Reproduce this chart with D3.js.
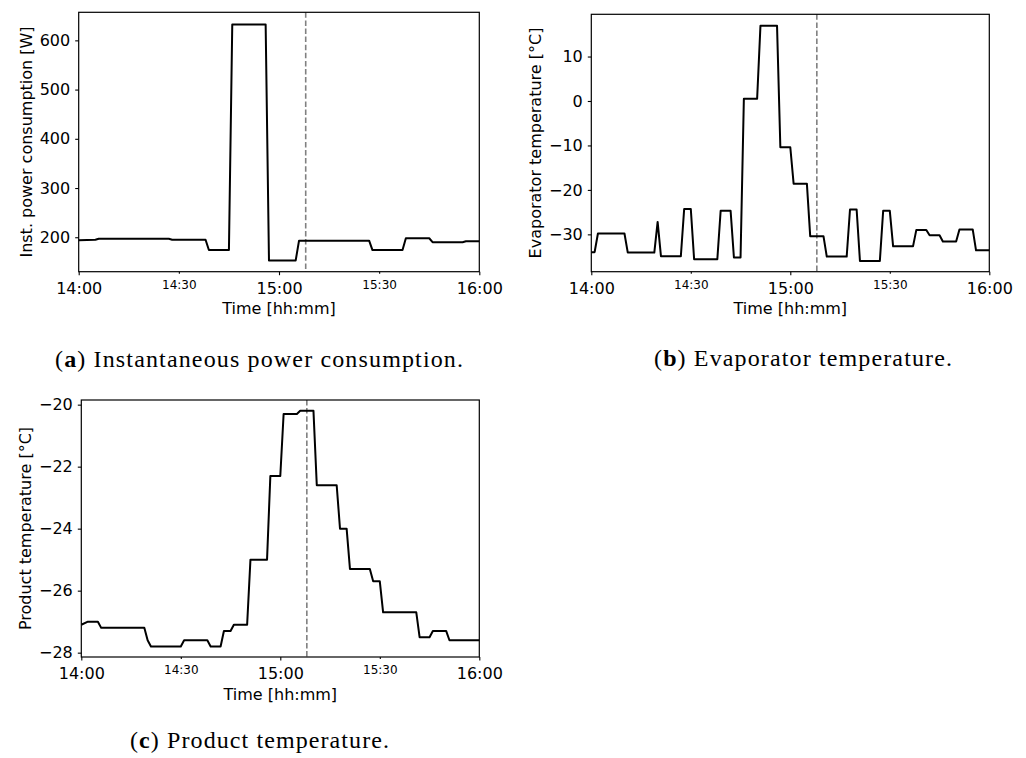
<!DOCTYPE html>
<html>
<head>
<meta charset="utf-8">
<script src="https://cdn.jsdelivr.net/npm/d3@7"></script>
<style>
body { margin: 0; background: #fff; }
svg { display: block; }
</style>
</head>
<body>
<div id="d3"></div>
<script>
// time axis labels
var majorTickLabels = ["14:00", "15:00", "16:00"];
var minorTickLabels = ["14:30", "15:30"];
var startTime = "14:00", endTime = "16:00";
var eventTime = "15:08";

// (a) instantaneous power consumption [W]
var powerTimes = ["14:00", "14:05", "14:06", "14:27", "14:28", "14:38", "14:39", "14:45", "14:46", "14:56",
    "14:57", "15:05", "15:06", "15:27", "15:28", "15:37", "15:38", "15:45", "15:46", "15:55", "15:56", "16:00"];
var powerValues = [194, 195, 197, 197, 195, 195, 174, 174, 632, 632,
    153, 153, 193, 193, 174, 174, 198, 198, 190, 190, 192, 192];
var powerTicks = [200, 300, 400, 500, 600];

// (b) evaporator temperature [°C]
var evapTimes = ["14:00", "14:01", "14:02", "14:10", "14:11", "14:19", "14:20", "14:21", "14:27", "14:28",
    "14:30", "14:31", "14:38", "14:39", "14:42", "14:43", "14:45", "14:46", "14:50", "14:51",
    "14:56", "14:57", "15:00", "15:01", "15:05", "15:06", "15:10", "15:11", "15:17", "15:18",
    "15:20", "15:21", "15:27", "15:28", "15:30", "15:31", "15:37", "15:38", "15:41", "15:42",
    "15:45", "15:46", "15:50", "15:51", "15:55", "15:56", "16:00"];
var evapValues = [-34, -34, -29.8, -29.8, -34.1, -34.1, -27.2, -34.9, -34.9, -24.3,
    -24.3, -35.6, -35.6, -24.7, -24.7, -35.2, -35.2, 0.5, 0.5, 16.9,
    16.9, -10.4, -10.4, -18.6, -18.6, -30.4, -30.4, -35.0, -35.0, -24.4,
    -24.4, -36.0, -36.0, -24.7, -24.7, -32.7, -32.7, -29.0, -29.0, -30.2,
    -30.2, -31.6, -31.6, -28.9, -28.9, -33.6, -33.6];
var evapTicks = [-30, -20, -10, 0, 10];

// (c) product temperature [°C]
var productTimes = ["14:00", "14:02", "14:05", "14:06", "14:19", "14:20", "14:21", "14:30", "14:31", "14:38",
    "14:39", "14:42", "14:43", "14:45", "14:46", "14:50", "14:51", "14:56", "14:57", "15:00",
    "15:01", "15:05", "15:06", "15:10", "15:11", "15:17", "15:18", "15:20", "15:21", "15:27",
    "15:28", "15:30", "15:31", "15:41", "15:42", "15:45", "15:46", "15:50", "15:51", "16:00"];
var productValues = [-27.1, -27.0, -27.0, -27.2, -27.2, -27.6, -27.8, -27.8, -27.6, -27.6,
    -27.8, -27.8, -27.3, -27.3, -27.1, -27.1, -25.0, -25.0, -22.3, -22.3,
    -20.3, -20.3, -20.2, -20.2, -22.6, -22.6, -24.0, -24.0, -25.3, -25.3,
    -25.7, -25.7, -26.7, -26.7, -27.5, -27.5, -27.3, -27.3, -27.6, -27.6];
var productTicks = [-28, -26, -24, -22, -20];

var parseTime = d3.timeParse("%H:%M");
var tickFont = "DejaVu Sans, sans-serif";
var capFont = "Liberation Serif, serif";

var svg = d3.select("#d3").append("svg").attr("width", 1026).attr("height", 758);
svg.append("rect").attr("width", 1026).attr("height", 758).attr("fill", "#fff");

function drawPanel(p) {
    var x = d3.scaleTime().domain([parseTime(startTime), parseTime(endTime)]).range([p.left, p.right]);
    var y = d3.scaleLinear().domain(p.yDomain).range([p.bottom, p.top]);
    var g = svg.append("g");

    var data = p.times.map(function(t, i) {
        return { t: parseTime(t), v: p.values[i] };
    });

    var line = d3.line()
        .x(function(d) { return x(d.t); })
        .y(function(d) { return y(d.v); });

    // dashed event marker
    g.append("line")
        .attr("x1", x(parseTime(eventTime))).attr("x2", x(parseTime(eventTime)))
        .attr("y1", p.top).attr("y2", p.bottom)
        .attr("stroke", "#808080").attr("stroke-width", 1.6)
        .attr("stroke-dasharray", "5.5,2.6");

    g.append("path").attr("d", line(data))
        .attr("fill", "none").attr("stroke", "#000").attr("stroke-width", 2)
        .attr("stroke-linejoin", "round");

    // axes
    var xMajor = d3.axisBottom(x).tickValues(majorTickLabels.map(parseTime))
        .tickFormat(d3.timeFormat("%H:%M")).tickSize(3.5).tickPadding(7.4).tickSizeOuter(0);
    var xMinor = d3.axisBottom(x).tickValues(minorTickLabels.map(parseTime))
        .tickFormat(d3.timeFormat("%H:%M")).tickSize(2).tickPadding(6.3).tickSizeOuter(0);
    var yAxis = d3.axisLeft(y).tickValues(p.yTicks)
        .tickFormat(function(d) { return String(d).replace("-", "\u2212"); })
        .tickSize(3.5).tickPadding(5).tickSizeOuter(0);

    var gx = g.append("g").attr("transform", "translate(0," + p.bottom + ")").call(xMajor);
    gx.attr("font-size", 16).attr("font-family", tickFont);
    var gm = g.append("g").attr("transform", "translate(0," + p.bottom + ")").call(xMinor);
    gm.attr("font-size", 12).attr("font-family", tickFont);
    var gy = g.append("g").attr("transform", "translate(" + p.left + ",0)").call(yAxis);
    gy.attr("font-size", 16).attr("font-family", tickFont);
    [gx, gm, gy].forEach(function(a) {
        a.select(".domain").remove();
        a.selectAll(".tick line").attr("stroke", "#000").attr("stroke-width", 1.1);
        a.selectAll(".tick text").attr("fill", "#000");
    });

    // frame
    g.append("rect")
        .attr("x", p.left).attr("y", p.top)
        .attr("width", p.right - p.left).attr("height", p.bottom - p.top)
        .attr("fill", "none").attr("stroke", "#000").attr("stroke-width", 1.2);

    // axis labels
    g.append("text")
        .attr("x", (p.left + p.right) / 2).attr("y", p.xLabelY)
        .attr("text-anchor", "middle").attr("font-size", 16).attr("font-family", tickFont)
        .text("Time [hh:mm]");
    g.append("text")
        .attr("transform", "translate(" + p.yLabelX + "," + (p.top + p.bottom) / 2 + ") rotate(-90)")
        .attr("text-anchor", "middle").attr("font-size", 16).attr("font-family", tickFont)
        .text(p.yLabel);

    // caption
    var cap = svg.append("text")
        .attr("x", p.capX).attr("y", p.capY)
        .attr("textLength", p.capWidth).attr("lengthAdjust", "spacing")
        .attr("font-size", 24).attr("font-family", capFont);
    cap.append("tspan").text("(");
    cap.append("tspan").attr("font-weight", "bold").text(p.capLetter);
    cap.append("tspan").text(") " + p.caption);
}

drawPanel({
    left: 78.7, right: 479.3, top: 12.3, bottom: 271.7,
    yDomain: [130, 657], yTicks: powerTicks,
    times: powerTimes, values: powerValues,
    yLabel: "Inst. power consumption [W]", yLabelX: 31.5, xLabelY: 313.5,
    capX: 55, capY: 367, capWidth: 408, capLetter: "a", caption: "Instantaneous power consumption."
});

drawPanel({
    left: 591.3, right: 989.3, top: 14.3, bottom: 271.7,
    yDomain: [-38.4, 19.5], yTicks: evapTicks,
    times: evapTimes, values: evapValues,
    yLabel: "Evaporator temperature [\u00b0C]", yLabelX: 540.5, xLabelY: 313.5,
    capX: 654, capY: 366, capWidth: 298, capLetter: "b", caption: "Evaporator temperature."
});

drawPanel({
    left: 81.3, right: 479.3, top: 400, bottom: 657,
    yDomain: [-28.14, -19.85], yTicks: productTicks,
    times: productTimes, values: productValues,
    yLabel: "Product temperature [\u00b0C]", yLabelX: 31, xLabelY: 700,
    capX: 130, capY: 748, capWidth: 259, capLetter: "c", caption: "Product temperature."
});
</script>
</body>
</html>
